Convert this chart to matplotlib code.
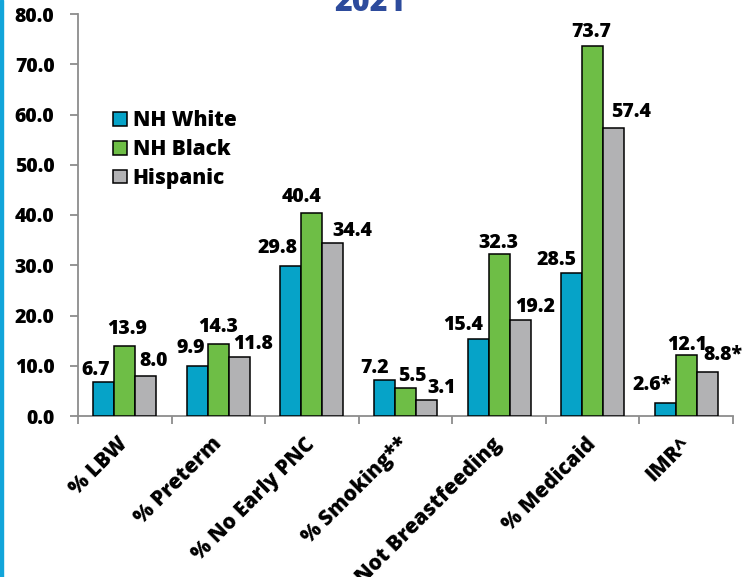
import matplotlib
matplotlib.use("Agg")
import matplotlib.pyplot as plt
from matplotlib.patches import Rectangle
import numpy as np

plt.rcParams['font.family'] = ['Open Sans', 'DejaVu Sans']
WT = 800
plt.rcParams['font.weight'] = WT

categories = ["% LBW", "% Preterm", "% No Early PNC", "% Smoking**",
              "% Not Breastfeeding", "% Medicaid", "IMR^"]
nh_white = [6.7, 9.9, 29.8, 7.2, 15.4, 28.5, 2.6]
nh_black = [13.9, 14.3, 40.4, 5.5, 32.3, 73.7, 12.1]
hispanic = [8.0, 11.8, 34.4, 3.1, 19.2, 57.4, 8.8]
series_names = ["NH White", "NH Black", "Hispanic"]
# asterisk flags for labels (unstable rates)
flag_white = [False, False, False, False, False, False, True]
flag_black = [False] * 7
flag_hisp = [False, False, False, False, False, False, True]
yticks = [0, 10, 20, 30, 40, 50, 60, 70, 80]
title = "2021"

colors = ["#06A3C8", "#6EBE46", "#B2B2B4"]

# label nudges in pixels (dx, dy above bar top)
nudges = [
    [(-8, 12), (-7, 18), (-13, 18), (-10, 12), (-15, 14), (-15, 13), (-13, 18)],
    [(2, 17), (0, 17), (-10, 16), (7, 12), (-1, 11), (-1, 14), (1, 10)],
    [(8, 15), (14, 13), (19, 12), (15, 12), (15, 13), (17, 16), (16, 17)],
]

W, H = 742, 577
fig = plt.figure(figsize=(W / 100, H / 100), dpi=100)
ax = fig.add_axes([78 / W, 1 - 416 / H, (733 - 78) / W, (416 - 14) / H])

x = np.arange(len(categories))
bw = 0.224
all_series = [nh_white, nh_black, hispanic]
all_flags = [flag_white, flag_black, flag_hisp]
for i, (vals, flags) in enumerate(zip(all_series, all_flags)):
    xs = x + (i - 1) * bw
    ax.bar(xs, vals, width=bw, color=colors[i], edgecolor='black',
           linewidth=1.1, label=series_names[i], zorder=3)
    for j, (xx, v) in enumerate(zip(xs, vals)):
        dx, dy = nudges[i][j]
        txt = f"{v:.1f}" + ("*" if flags[j] else "")
        ax.annotate(txt, xy=(xx, v), xytext=(dx, dy), textcoords='offset pixels',
                    ha='center', va='center', fontsize=14, fontweight=WT,
                    color='black', zorder=5, annotation_clip=False)

ax.set_xlim(-0.5, len(categories) - 0.5)
ax.set_ylim(0, 80)
ax.set_yticks(yticks)
ax.set_yticklabels([f"{t:.1f}" for t in yticks], fontsize=14, fontweight=WT)
ax.tick_params(axis='y', direction='out', length=6, width=1.3, color='#8C8C8C', pad=11)

ax.set_xticks(x)
ax.set_xticklabels(categories, fontsize=15, fontweight=WT)
ax.set_xticks(np.arange(len(categories) + 1) - 0.5, minor=True)
ax.tick_params(axis='x', which='major', length=0, pad=18)
ax.tick_params(axis='x', which='minor', direction='out', length=6, width=1.3, color='#8C8C8C')
for lab in ax.get_xticklabels():
    lab.set_rotation(45)
    lab.set_ha('right')
    lab.set_va('center')
    lab.set_rotation_mode('anchor')

for s in ['top', 'right']:
    ax.spines[s].set_visible(False)
for s in ['left', 'bottom']:
    ax.spines[s].set_color('#8C8C8C')
    ax.spines[s].set_linewidth(1.3)

leg = ax.legend(loc='upper left', bbox_to_anchor=(113 / W, 1 - 110 / H),
                bbox_transform=fig.transFigure, frameon=False,
                prop={'size': 15, 'weight': WT}, handlelength=0.65,
                handleheight=0.65, handletextpad=0.3, labelspacing=0.38,
                borderpad=0, borderaxespad=0)

fig.text(370 / W, 1 - 11 / H, title, ha='center', va='baseline',
         fontsize=22, fontweight=WT, color='#2D4B9C')

fig.add_artist(Rectangle((0, 0), 3 / W, 1, transform=fig.transFigure,
                         color='#12A5DA', zorder=10))

fig.savefig("out.png", dpi=100)
